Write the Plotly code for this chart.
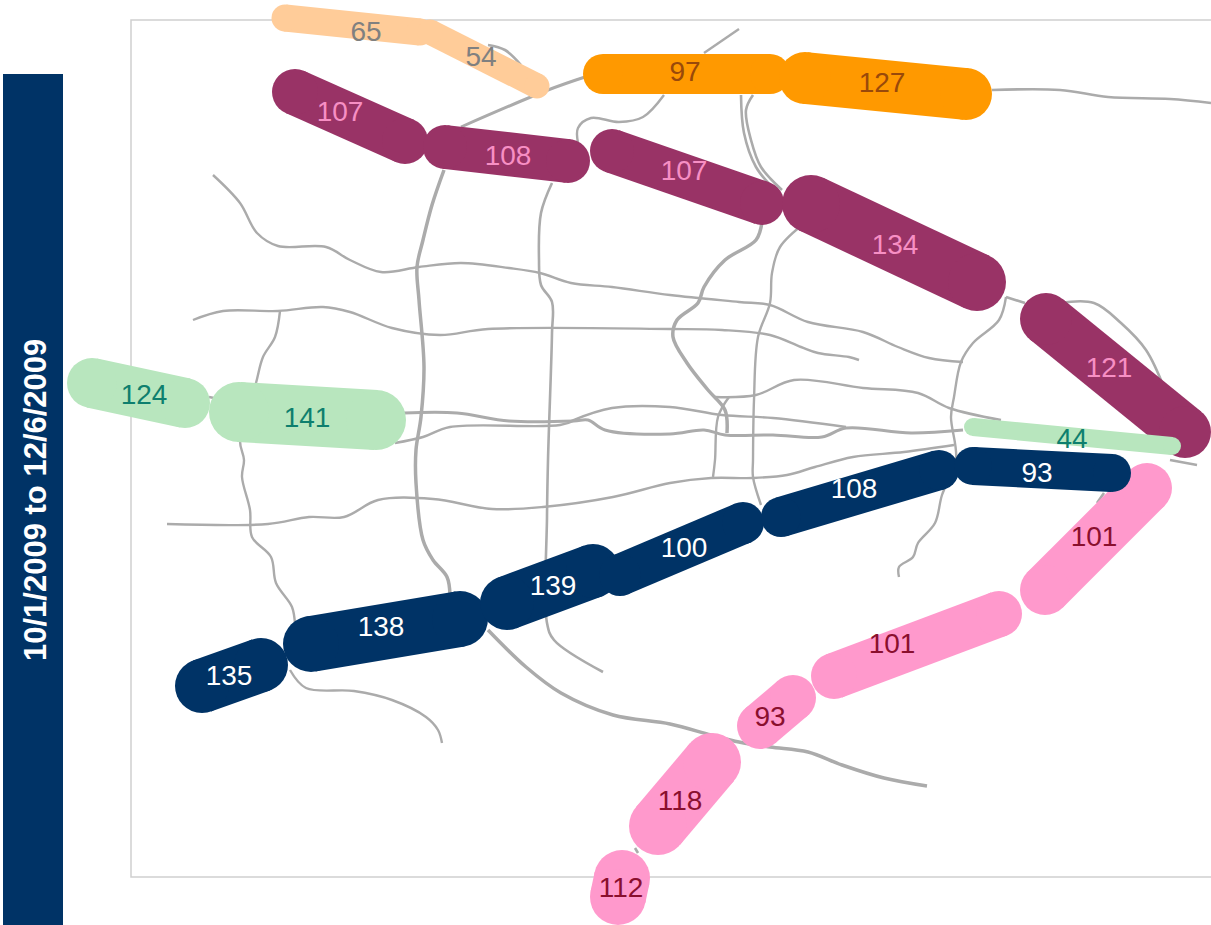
import plotly.graph_objects as go

PERIOD_LABEL = "10/1/2009 to 12/6/2009"

# Corridor groups: values, end points (x0, x1 / y0, y1), widths, label positions
peach_values = [65, 54]
peach_x = [[285, 420], [430, 537]]
peach_y = [[18, 32], [32, 86]]
peach_w = [27, 25]
peach_lx = [366, 481]
peach_ly = [34, 59]

orange_values = [97, 127]
orange_x = [[603, 770], [805, 966]]
orange_y = [[74, 74], [78, 94]]
orange_w = [40, 52]
orange_lx = [685, 882]
orange_ly = [74, 85]

purple_values = [107, 108, 107, 134, 121]
purple_x = [[295, 405], [445, 568], [612, 762], [811, 977], [1046, 1185]]
purple_y = [[92, 141], [147, 161], [151, 203], [204, 282], [319, 432]]
purple_w = [46, 44, 44, 58, 52]
purple_lx = [340, 508, 684, 895, 1109]
purple_ly = [114, 158, 173, 247, 370]

green_values = [124, 141, 44]
green_x = [[92, 185], [239, 376], [973, 1172]]
green_y = [[383, 403], [412, 420], [427, 446]]
green_w = [50, 60, 18]
green_lx = [144, 307, 1072]
green_ly = [397, 420, 441]

pink_values = [101, 101, 93, 118, 112]
pink_x = [[1147, 1045], [999, 834], [793, 760], [712, 658], [622, 618]]
pink_y = [[488, 590], [614, 676], [698, 726], [762, 826], [878, 897]]
pink_w = [50, 46, 46, 58, 56]
pink_lx = [1094, 892, 770, 680, 621]
pink_ly = [539, 646, 719, 803, 890]

navy_values = [135, 138, 139, 100, 108, 93]
navy_x = [[202, 261], [311, 460], [507, 593], [620, 743], [781, 939], [973, 1112]]
navy_y = [[686, 665], [644, 619], [603, 571], [575, 523], [517, 470], [466, 473]]
navy_w = [54, 56, 54, 42, 40, 38]
navy_lx = [229, 381, 553, 684, 854, 1037]
navy_ly = [678, 629, 588, 550, 491, 475]

# Background road network
road_xs = [
    [444, 432, 423, 417, 419, 424, 421, 416, 416, 423, 433, 447, 450],
    [552, 541, 539, 541, 552, 552, 548, 547, 547, 554, 603],
    [213, 240, 257, 278, 326, 350, 381, 419, 461, 509, 540, 571, 612, 670, 739, 770, 808, 863, 898, 929, 963],
    [193, 223, 278, 323, 350, 392, 440, 488, 670, 722, 770, 801, 818, 849, 859],
    [280, 275, 263, 256, 240, 244, 242, 250, 252, 271, 276, 292, 295],
    [290, 306, 354, 392, 426, 438, 442],
    [404, 457, 509, 574, 588, 605, 670, 704, 725, 773, 822, 846, 911, 963],
    [571, 612, 670, 722, 773, 846],
    [395, 423, 450, 560, 578],
    [715, 756, 794, 863, 918, 949, 1001],
    [762, 756, 725, 704, 698, 677, 673, 687, 708, 725, 727],
    [741, 744, 756, 775],
    [753, 746, 751, 761, 782],
    [806, 780, 772, 770, 758, 754, 753, 753, 761],
    [729, 718, 715, 713],
    [1006, 999, 973, 961, 954, 951, 956, 942, 935, 918, 913, 899, 899],
    [992, 1060, 1108, 1170, 1211],
    [585, 548, 461],
    [488, 505, 521],
    [664, 643, 619, 591, 578, 578],
    [704, 739],
    [1006, 1025],
    [1060, 1094, 1121, 1146, 1165],
    [1170, 1197],
    [1104, 1097],
    [488, 526, 561, 613, 670, 711, 739, 770, 808, 842, 884, 927],
    [167, 268, 309, 344, 378, 433, 492, 543, 613, 670, 711, 753, 787, 815, 853, 904, 954],
    [209, 214],
    [635, 638],
]
road_ys = [
    [170, 205, 240, 267, 300, 367, 417, 450, 483, 540, 560, 577, 595],
    [183, 213, 260, 285, 302, 333, 460, 517, 623, 640, 672],
    [175, 203, 233, 246, 247, 260, 272, 267, 263, 268, 273, 283, 287, 295, 302, 305, 322, 332, 347, 358, 362],
    [320, 311, 311, 307, 312, 328, 335, 329, 329, 330, 335, 347, 353, 357, 360],
    [311, 337, 357, 383, 440, 460, 477, 510, 537, 557, 583, 607, 625],
    [670, 688, 691, 700, 717, 730, 743],
    [413, 413, 421, 421, 420, 430, 434, 430, 435, 435, 437, 428, 433, 430],
    [421, 408, 407, 415, 418, 427],
    [443, 437, 427, 425, 419],
    [397, 395, 380, 388, 393, 408, 420],
    [222, 240, 260, 287, 303, 320, 337, 363, 390, 410, 433],
    [95, 133, 167, 190],
    [95, 110, 140, 167, 190],
    [222, 247, 273, 303, 337, 400, 460, 477, 505],
    [397, 417, 460, 477],
    [297, 320, 343, 362, 397, 417, 460, 495, 523, 543, 557, 567, 577],
    [90, 90, 97, 99, 103],
    [77, 90, 127],
    [45, 50, 65],
    [95, 117, 122, 118, 128, 143],
    [53, 29],
    [297, 303],
    [303, 303, 323, 350, 390],
    [460, 465],
    [493, 503],
    [630, 667, 693, 715, 724, 735, 742, 747, 752, 765, 778, 786],
    [524, 524, 517, 517, 500, 499, 509, 507, 497, 483, 478, 478, 475, 467, 457, 452, 445],
    [397, 398],
    [848, 853],
]
road_w = [3.5, 2.6, 2.4, 2.4, 2.4, 2.4, 3, 2.4, 2.4, 2.4, 3.5, 2.6, 2.6, 2.4, 2.4, 2.4, 2.6, 3, 2.6, 2.4, 2.4, 2.6, 2.6, 2.6, 2.6, 3.5, 2.4, 2.6, 2.6]

ROAD = "#ababab"
FONT = "Liberation Sans"

fig = go.Figure()

for xs, ys, w in zip(road_xs, road_ys, road_w):
    fig.add_trace(go.Scatter(x=xs, y=ys, mode="lines", hoverinfo="skip",
                             line=dict(color=ROAD, width=w, shape="spline", smoothing=1.0)))


def corridor(values, xs, ys, ws, lx, ly, fill, ink):
    for sx, sy, w in zip(xs, ys, ws):
        fig.add_trace(go.Scatter(x=sx, y=sy, mode="lines+markers", hoverinfo="skip",
                                 line=dict(color=fill, width=w),
                                 marker=dict(color=fill, size=w, line=dict(width=0))))
    return dict(x=lx, y=ly, text=[str(v) for v in values], color=ink)


labels = [
    corridor(pink_values, pink_x, pink_y, pink_w, pink_lx, pink_ly, "#FF99CC", "#8A0F2E"),
    corridor(navy_values, navy_x, navy_y, navy_w, navy_lx, navy_ly, "#003366", "#FFFFFF"),
    corridor(purple_values, purple_x, purple_y, purple_w, purple_lx, purple_ly, "#993366", "#F78FC4"),
    corridor(green_values, green_x, green_y, green_w, green_lx, green_ly, "#B8E6BE", "#0E7F6E"),
    corridor(orange_values, orange_x, orange_y, orange_w, orange_lx, orange_ly, "#FF9900", "#99490A"),
    corridor(peach_values, peach_x, peach_y, peach_w, peach_lx, peach_ly, "#FFCC99", "#808080"),
]

for lab in labels:
    fig.add_trace(go.Scatter(x=lab["x"], y=lab["y"], text=lab["text"], mode="text", hoverinfo="skip",
                             textposition="middle center",
                             textfont=dict(family=FONT, size=28, color=lab["color"])))

fig.add_shape(type="rect", x0=131, x1=1300, y0=20, y1=877, layer="below",
              line=dict(color="#D0D0D0", width=1.5), fillcolor="#FFFFFF")
fig.add_shape(type="rect", x0=3, x1=63, y0=74, y1=925, layer="below",
              line=dict(width=0), fillcolor="#003366")
fig.add_annotation(x=35, y=500, text="<b>" + PERIOD_LABEL + "</b>", showarrow=False, textangle=-90,
                   font=dict(family=FONT, size=31, color="#FFFFFF"))

fig.update_layout(
    width=1211, height=925, margin=dict(l=0, r=0, t=0, b=0),
    showlegend=False, paper_bgcolor="#FFFFFF", plot_bgcolor="#FFFFFF",
    xaxis=dict(range=[0, 1211], visible=False),
    yaxis=dict(range=[925, 0], visible=False),
)

fig.write_html("out.html", config=dict(displayModeBar=False),
               post_script="document.body.style.margin='0';document.body.style.overflow='hidden';")
